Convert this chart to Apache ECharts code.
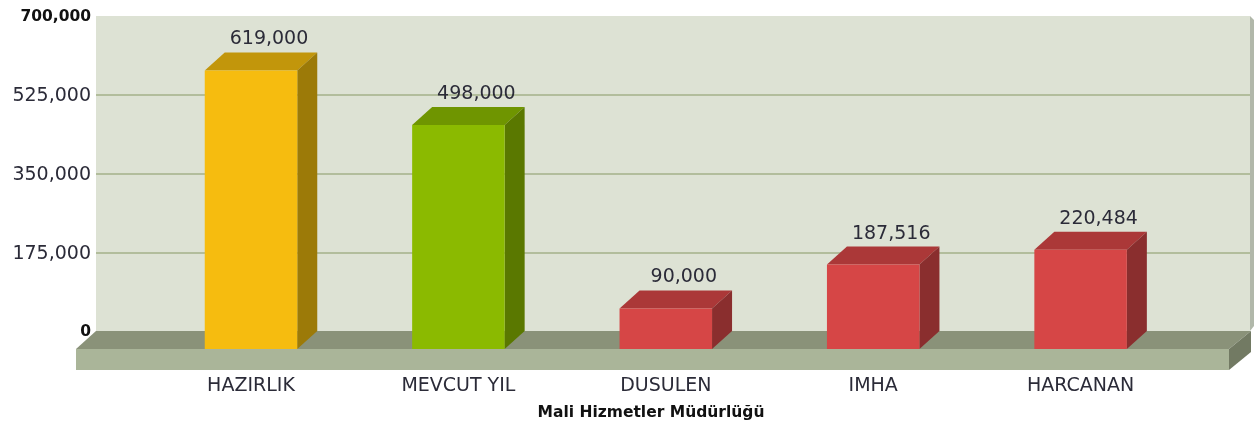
<!DOCTYPE html>
<html>
<head>
<meta charset="utf-8">
<style>html,body{margin:0;padding:0;background:#fff}#c{width:1258px;height:428px}</style>
<script src="https://cdn.jsdelivr.net/npm/echarts@6/dist/echarts.min.js"></script>
</head>
<body>
<div id="c"></div>
<script>
const categories = ['HAZIRLIK', 'MEVCUT YIL', 'DUSULEN', 'IMHA', 'HARCANAN'];
const values = [619000, 498000, 90000, 187516, 220484];
const yTicks = [0, 175000, 350000, 525000, 700000];
const axisTitle = 'Mali Hizmetler Müdürlüğü';
const barFaces = [
  ['#f6bc0f', '#c2960b', '#9c7a08'],
  ['#8bba00', '#6f9500', '#5a7800'],
  ['#d64646', '#ab3838', '#8a2e2e'],
  ['#d64646', '#ab3838', '#8a2e2e'],
  ['#d64646', '#ab3838', '#8a2e2e']
];
const DX = 20, DY = 18;
const FONT = '"DejaVu Sans", Verdana, sans-serif';
const fmt = v => v.toLocaleString('en-US');

const poly = (points, fill, z2) => ({type: 'polygon', z2: z2 || 0, shape: {points}, style: {fill}});

function renderFloor(params, api) {
  const c = params.coordSys;
  const l = c.x, r = c.x + c.width, b = c.y + c.height, t = c.y;
  const fl = l - DX, fr = r - DX - 1, fy = b + DY, fh = 21;
  return {type: 'group', children: [
    poly([[r, t], [r + 4, t + 4], [r + 4, b - 5], [r, b]], '#b1b8aa'),
    poly([[l, b], [r + 1, b], [fr, fy], [fl, fy]], '#8a9279'),
    poly([[fl, fy], [fr, fy], [fr, fy + fh], [fl, fy + fh]], '#aab599'),
    poly([[fr, fy], [r + 1, b], [r + 1, b + fh], [fr, fy + fh]], '#727a63')
  ]};
}

function renderBar(params, api) {
  const i = api.value(0), v = api.value(1);
  const top = api.coord([i, v]), base = api.coord([i, 0]);
  const w = api.size([1, 0])[0] * 0.446;
  const x0 = top[0] - w / 2, x1 = top[0] + w / 2, y0 = top[1], y1 = base[1];
  const f = barFaces[i];
  return {type: 'group', children: [
    poly([[x0, y0], [x0 + DX, y0 - DY], [x1 + DX, y0 - DY], [x1, y0]], f[1]),
    poly([[x1, y0], [x1 + DX, y0 - DY], [x1 + DX, y1 - DY], [x1, y1]], f[2]),
    {type: 'rect', shape: {x: x0, y: y0, width: x1 - x0, height: y1 - y0}, style: {fill: f[0]}},
    {type: 'text', style: {
      text: fmt(v), x: top[0] + DX - 2, y: y0 - DY - 13,
      align: 'center', verticalAlign: 'middle',
      fill: '#2b2b38', font: '19px ' + FONT
    }}
  ]};
}

const chart = echarts.init(document.getElementById('c'), null, {renderer: 'canvas'});
chart.setOption({
  animation: false,
  backgroundColor: '#ffffff',
  title: {
    text: axisTitle, left: 646, top: 400, textAlign: 'center',
    textStyle: {fontFamily: FONT, fontSize: 15.5, fontWeight: 'bold', color: '#111'}
  },
  grid: [
    {left: 96, top: 16, width: 1154, height: 315, show: true, backgroundColor: '#dde2d4', borderWidth: 0},
    {left: 147.3, top: 34, width: 1037, height: 315, show: false}
  ],
  xAxis: [
    {gridIndex: 0, type: 'category', data: categories, show: false},
    {gridIndex: 1, type: 'category', data: categories,
      axisLine: {show: false}, axisTick: {show: false},
      axisLabel: {margin: 28, interval: 0, fontFamily: FONT, fontSize: 19, color: '#2b2b38'}}
  ],
  yAxis: [
    {gridIndex: 0, type: 'value', min: yTicks[0], max: yTicks[yTicks.length - 1], interval: yTicks[1],
      axisLine: {show: false}, axisTick: {show: false},
      splitLine: {show: true, showMinLine: false, showMaxLine: false, lineStyle: {color: '#b2bd9c', width: 2}},
      axisLabel: {
        margin: 5, fontFamily: FONT,
        formatter: v => (v === yTicks[0] || v === yTicks[yTicks.length - 1]) ? '{b|' + fmt(v) + '}' : '{n|' + fmt(v) + '}',
        rich: {
          b: {fontFamily: FONT, fontSize: 15.5, fontWeight: 'bold', color: '#111', padding: [2, 0, 0, 0]},
          n: {fontFamily: FONT, fontSize: 19, color: '#2b2b38', padding: [3, 0, 0, 0]}
        }
      }},
    {gridIndex: 1, type: 'value', min: yTicks[0], max: yTicks[yTicks.length - 1], interval: yTicks[1], show: false}
  ],
  series: [
    {type: 'custom', xAxisIndex: 0, yAxisIndex: 0, z: 1, silent: true, data: [[0, 0]], renderItem: renderFloor},
    {type: 'custom', xAxisIndex: 1, yAxisIndex: 1, z: 2, silent: true,
      data: values.map((v, i) => [i, v]), encode: {x: 0, y: 1}, renderItem: renderBar}
  ]
});
</script>
</body>
</html>
